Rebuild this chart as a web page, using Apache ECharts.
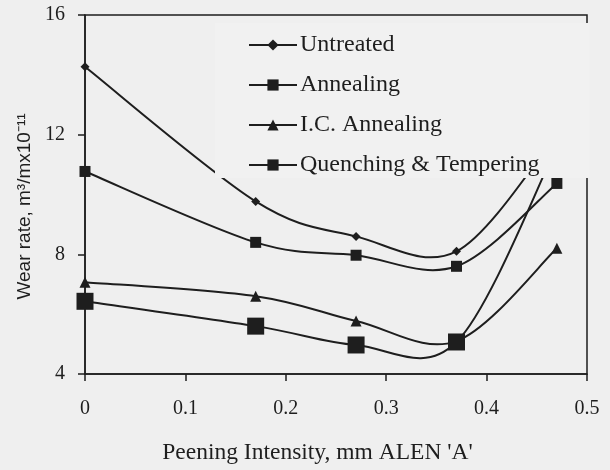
<!DOCTYPE html>
<html>
<head>
<meta charset="utf-8">
<script src="https://cdn.jsdelivr.net/npm/echarts@6/dist/echarts.min.js"></script>
<style>html,body{margin:0;padding:0;background:#efefef;}#c{width:610px;height:470px;}</style>
</head>
<body>
<div id="c"></div>
<script>
var intensity = [0, 0.17, 0.27, 0.37, 0.47];
var untreated = [14.27, 9.77, 8.6, 8.1, 12.0];
var annealing = [10.77, 8.4, 7.97, 7.6, 10.37];
var icAnnealing = [7.07, 6.6, 5.77, 5.1, 8.2];
var quenching = [6.43, 5.6, 4.97, 5.07, 11.6];
var xTicks = [0, 0.1, 0.2, 0.3, 0.4, 0.5];
var yTicks = [4, 8, 12, 16];
var names = ['Untreated', 'Annealing', 'I.C. Annealing', 'Quenching & Tempering'];

function pairs(v) { return intensity.map(function (x, i) { return [x, v[i]]; }); }
var serif = 'Liberation Serif';
var ink = '#1e1e1e';

// marker series (legend entries); the line itself is drawn by a spline custom series
function markers(name, vals, symbol, size) {
  return {
    name: name, type: 'line', data: pairs(vals), z: 3,
    symbol: symbol, symbolSize: size, showSymbol: true,
    lineStyle: { color: ink, width: 2, opacity: 0 },
    itemStyle: { color: ink },
    emphasis: { disabled: true }
  };
}

// Excel-like Catmull-Rom spline through the data points, positioned by the axes
function spline(name, vals) {
  return {
    name: name + ' (curve)', type: 'custom', z: 2,
    coordinateSystem: 'cartesian2d',
    data: [[intensity[0], vals[0]]],
    silent: true,
    renderItem: function (params, api) {
      var p = intensity.map(function (x, i) { return api.coord([x, vals[i]]); });
      var n = p.length, t = 1 / 6, children = [];
      for (var i = 0; i < n - 1; i++) {
        var p0 = p[Math.max(i - 1, 0)], p1 = p[i], p2 = p[i + 1], p3 = p[Math.min(i + 2, n - 1)];
        children.push({
          type: 'bezierCurve',
          shape: {
            x1: p1[0], y1: p1[1], x2: p2[0], y2: p2[1],
            cpx1: p1[0] + (p2[0] - p0[0]) * t, cpy1: p1[1] + (p2[1] - p0[1]) * t,
            cpx2: p2[0] - (p3[0] - p1[0]) * t, cpy2: p2[1] - (p3[1] - p1[1]) * t
          },
          style: { stroke: ink, lineWidth: 2, fill: null }
        });
      }
      return { type: 'group', children: children };
    }
  };
}

var chart = echarts.init(document.getElementById('c'));
chart.setOption({
  backgroundColor: '#efefef',
  animation: false,
  grid: { left: 85, right: 23, top: 15, bottom: 95, show: true, borderColor: ink, borderWidth: 1.5, backgroundColor: 'transparent' },
  legend: {
    orient: 'vertical', left: 215, top: 23, z: 10,
    padding: [10, 50, 1, 33],
    backgroundColor: '#f1f1f1',
    itemWidth: 48, itemHeight: 14, itemGap: 16,
    lineStyle: { color: ink, width: 2, opacity: 1 },
    textStyle: { fontFamily: serif, fontSize: 24, color: ink, padding: [0, 0, 0, -2] },
    data: names
  },
  xAxis: {
    type: 'value', min: 0, max: 0.5, interval: 0.1,
    name: "Peening Intensity, mm ALEN 'A'", nameLocation: 'middle', nameGap: 67,
    nameTextStyle: { fontFamily: serif, fontSize: 23.5, color: ink, padding: [0, 37, 0, 0] },
    axisLine: { show: true, lineStyle: { color: ink, width: 1.5 } },
    axisTick: { show: true, inside: false, length: 7, lineStyle: { color: ink, width: 1.5 } },
    axisLabel: { fontFamily: serif, fontSize: 20, color: ink, margin: 25,
      formatter: function (v) { return xTicks.indexOf(Math.round(v * 10) / 10) >= 0 ? String(Math.round(v * 10) / 10) : ''; } },
    splitLine: { show: false }
  },
  yAxis: {
    type: 'value', min: 4, max: 16, interval: 4,
    name: 'Wear rate, m\u00B3/mx10\u207B\u00B9\u00B9', nameLocation: 'middle', nameGap: 47,
    nameTextStyle: { fontFamily: 'Liberation Sans', fontSize: 19, color: ink, padding: [0, 24, 0, 0] },
    axisLine: { show: true, lineStyle: { color: ink, width: 1.5 } },
    axisTick: { show: true, inside: false, length: 7, lineStyle: { color: ink, width: 1.5 } },
    axisLabel: { fontFamily: serif, fontSize: 20, color: ink, margin: 20,
      formatter: function (v) { return yTicks.indexOf(v) >= 0 ? String(v) : ''; } },
    splitLine: { show: false }
  },
  series: [
    spline(names[0], untreated),
    spline(names[1], annealing),
    spline(names[2], icAnnealing),
    spline(names[3], quenching),
    markers(names[0], untreated, 'diamond', 9),
    markers(names[1], annealing, 'rect', 11),
    markers(names[2], icAnnealing, 'triangle', 11),
    markers(names[3], quenching, 'rect', 17)
  ]
});
</script>
</body>
</html>
